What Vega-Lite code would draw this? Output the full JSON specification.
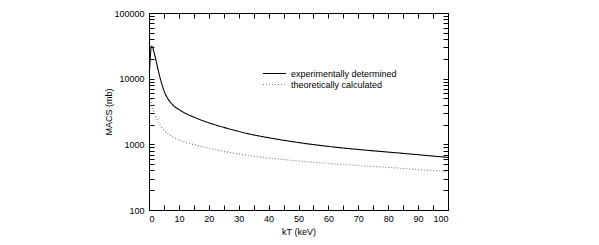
{
  "$schema": "https://vega.github.io/schema/vega-lite/v6.json",
  "autosize": "none",
  "width": 299,
  "height": 197,
  "padding": {"left": 149, "top": 13, "right": 151, "bottom": 35},
  "background": "white",
  "config": {
    "font": "Liberation Sans",
    "view": {"stroke": "black", "strokeWidth": 1},
    "axis": {
      "domainColor": "black",
      "tickColor": "black",
      "labelColor": "black",
      "titleColor": "black",
      "labelFont": "Liberation Sans",
      "titleFont": "Liberation Sans",
      "labelFontSize": 9,
      "titleFontSize": 9,
      "titleFontWeight": "normal",
      "grid": false
    }
  },
  "data": {
    "values": [
      {"kT": 0.1, "MACS": 12000, "series": "experimentally determined"},
      {"kT": 0.3, "MACS": 17000, "series": "experimentally determined"},
      {"kT": 0.6, "MACS": 27000, "series": "experimentally determined"},
      {"kT": 0.9, "MACS": 31500, "series": "experimentally determined"},
      {"kT": 1.2, "MACS": 30000, "series": "experimentally determined"},
      {"kT": 1.6, "MACS": 26000, "series": "experimentally determined"},
      {"kT": 2, "MACS": 22000, "series": "experimentally determined"},
      {"kT": 2.5, "MACS": 17500, "series": "experimentally determined"},
      {"kT": 3, "MACS": 14000, "series": "experimentally determined"},
      {"kT": 3.7, "MACS": 10300, "series": "experimentally determined"},
      {"kT": 4.5, "MACS": 7700, "series": "experimentally determined"},
      {"kT": 5.5, "MACS": 5800, "series": "experimentally determined"},
      {"kT": 6.5, "MACS": 4800, "series": "experimentally determined"},
      {"kT": 8, "MACS": 3950, "series": "experimentally determined"},
      {"kT": 10, "MACS": 3400, "series": "experimentally determined"},
      {"kT": 12, "MACS": 3000, "series": "experimentally determined"},
      {"kT": 15, "MACS": 2600, "series": "experimentally determined"},
      {"kT": 18.5, "MACS": 2250, "series": "experimentally determined"},
      {"kT": 22, "MACS": 1990, "series": "experimentally determined"},
      {"kT": 26, "MACS": 1760, "series": "experimentally determined"},
      {"kT": 31.5, "MACS": 1510, "series": "experimentally determined"},
      {"kT": 40, "MACS": 1260, "series": "experimentally determined"},
      {"kT": 46, "MACS": 1135, "series": "experimentally determined"},
      {"kT": 50, "MACS": 1065, "series": "experimentally determined"},
      {"kT": 60, "MACS": 930, "series": "experimentally determined"},
      {"kT": 70, "MACS": 835, "series": "experimentally determined"},
      {"kT": 80, "MACS": 762, "series": "experimentally determined"},
      {"kT": 90, "MACS": 695, "series": "experimentally determined"},
      {"kT": 100, "MACS": 632, "series": "experimentally determined"},
      {"kT": 0.5, "MACS": 4900, "series": "theoretically calculated"},
      {"kT": 0.7, "MACS": 4500, "series": "theoretically calculated"},
      {"kT": 1, "MACS": 3950, "series": "theoretically calculated"},
      {"kT": 1.5, "MACS": 3250, "series": "theoretically calculated"},
      {"kT": 2.5, "MACS": 2500, "series": "theoretically calculated"},
      {"kT": 4, "MACS": 1880, "series": "theoretically calculated"},
      {"kT": 5.5, "MACS": 1560, "series": "theoretically calculated"},
      {"kT": 7, "MACS": 1380, "series": "theoretically calculated"},
      {"kT": 10, "MACS": 1170, "series": "theoretically calculated"},
      {"kT": 15, "MACS": 990, "series": "theoretically calculated"},
      {"kT": 20, "MACS": 875, "series": "theoretically calculated"},
      {"kT": 25, "MACS": 785, "series": "theoretically calculated"},
      {"kT": 30, "MACS": 715, "series": "theoretically calculated"},
      {"kT": 40, "MACS": 620, "series": "theoretically calculated"},
      {"kT": 50, "MACS": 558, "series": "theoretically calculated"},
      {"kT": 60, "MACS": 512, "series": "theoretically calculated"},
      {"kT": 70, "MACS": 476, "series": "theoretically calculated"},
      {"kT": 80, "MACS": 445, "series": "theoretically calculated"},
      {"kT": 90, "MACS": 413, "series": "theoretically calculated"},
      {"kT": 100, "MACS": 385, "series": "theoretically calculated"}
    ]
  },
  "resolve": {"axis": {"x": "independent", "y": "independent"}},
  "layer": [
    {
      "mark": {"type": "line", "clip": true, "strokeWidth": 1.1, "interpolate": "monotone"},
      "encoding": {
        "x": {
          "field": "kT", "type": "quantitative",
          "scale": {"domain": [0, 100], "nice": false, "zero": false},
          "axis": {
            "title": "kT (keV)",
            "values": [0,5,10,15,20,25,30,35,40,45,50,55,60,65,70,75,80,85,90,95,100],
            "labelExpr": "datum.value % 10 == 0 ? format(datum.value, 'd') : ''",
            "tickSize": -5,
            "labelPadding": 9,
            "titlePadding": 4
          }
        },
        "y": {
          "field": "MACS", "type": "quantitative",
          "scale": {"type": "log", "domain": [100, 100000], "nice": false},
          "axis": {
            "title": "MACS (mb)",
            "values": [100,200,300,400,500,600,700,800,900,1000,2000,3000,4000,5000,6000,7000,8000,9000,10000,20000,30000,40000,50000,60000,70000,80000,90000,100000],
            "labelExpr": "abs(log(datum.value)/LN10 - round(log(datum.value)/LN10)) < 0.000001 ? format(datum.value, 'd') : ''",
            "tickSize": -5,
            "labelPadding": 10,
            "titlePadding": 0
          }
        },
        "color": {
          "field": "series", "type": "nominal",
          "scale": {"domain": ["experimentally determined", "theoretically calculated"], "range": ["#000000", "#777777"]},
          "legend": {
            "title": null,
            "orient": "none",
            "legendX": 113,
            "legendY": 55,
            "symbolType": "stroke",
            "symbolSize": 529,
            "symbolStrokeWidth": 1.1,
            "clipHeight": 11,
            "rowPadding": 0,
            "labelOffset": 4,
            "labelFont": "Liberation Sans",
            "labelFontSize": 9,
            "labelColor": "black"
          }
        },
        "strokeDash": {
          "field": "series", "type": "nominal",
          "scale": {"domain": ["experimentally determined", "theoretically calculated"], "range": [[1, 0], [1, 2]]},
          "legend": null
        }
      }
    },
    {
      "mark": {"type": "line", "opacity": 0},
      "encoding": {
        "x": {
          "field": "kT", "type": "quantitative",
          "axis": {
            "orient": "top", "title": null, "labels": false,
            "values": [0,5,10,15,20,25,30,35,40,45,50,55,60,65,70,75,80,85,90,95,100],
            "tickSize": -5
          }
        },
        "y": {
          "field": "MACS", "type": "quantitative",
          "axis": {
            "orient": "right", "title": null, "labels": false,
            "values": [100,200,300,400,500,600,700,800,900,1000,2000,3000,4000,5000,6000,7000,8000,9000,10000,20000,30000,40000,50000,60000,70000,80000,90000,100000],
            "tickSize": -5
          }
        },
        "detail": {"field": "series", "type": "nominal"}
      }
    }
  ]
}
